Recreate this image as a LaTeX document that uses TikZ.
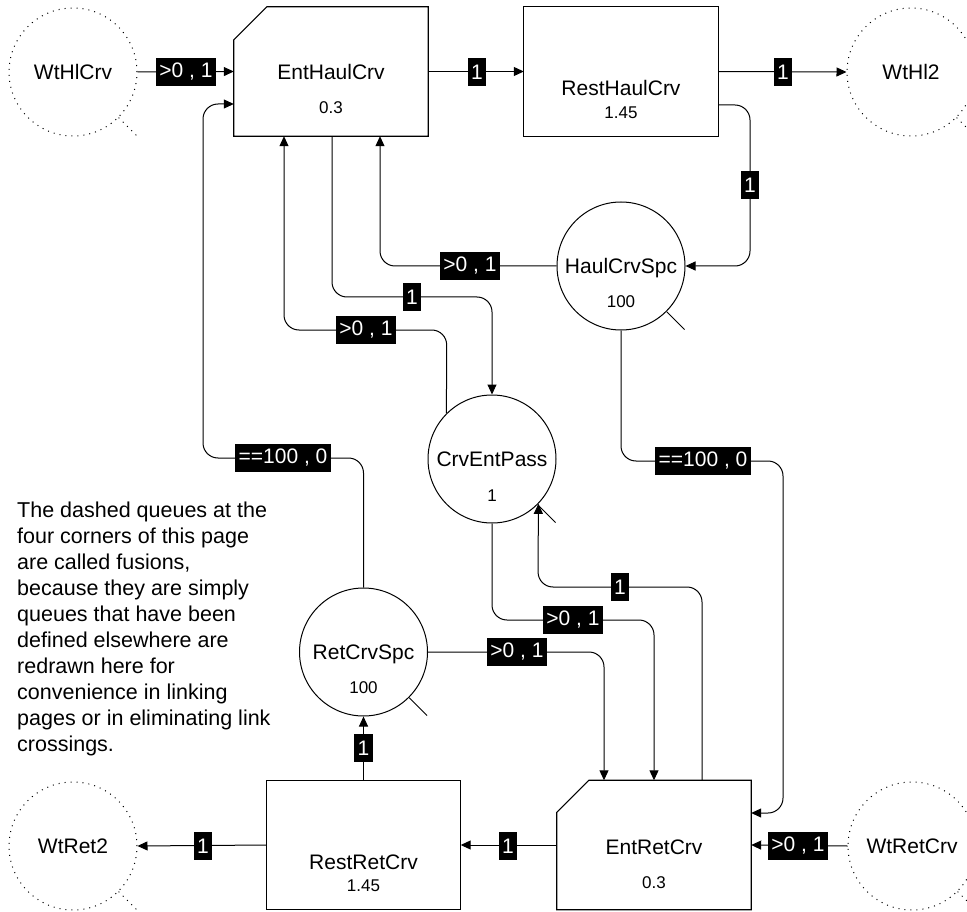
\documentclass[tikz,border=0pt]{standalone}
\usepackage{fontspec}
\setmainfont{Liberation Sans}
\usetikzlibrary{arrows.meta,calc}
\begin{document}
\begin{tikzpicture}[x=1pt,y=-1pt,
  conn/.style={line width=1pt,-{Triangle[length=10pt,width=9pt]},rounded corners=15pt},
  lbl/.style={fill=black,text=white,font=\fontsize{21}{21}\selectfont,
    inner xsep=3.5pt,inner ysep=0pt,minimum height=28pt},
  nametxt/.style={font=\fontsize{21}{25}\selectfont,inner sep=0pt,text depth=0pt},
  valtxt/.style={font=\fontsize{17}{20}\selectfont,inner sep=0pt,text depth=0pt},
  queue/.style={circle,draw,line width=1pt,minimum size=128pt,inner sep=0pt,
    font=\fontsize{21}{25}\selectfont,text depth=0pt},
  fusion/.style={queue,dash pattern=on 1pt off 5pt},
  tail/.style={line width=1pt},
  fusiontail/.style={line width=1pt,dash pattern=on 1pt off 5pt},
  box/.style={rectangle,inner sep=0pt,minimum width=194pt,minimum height=129pt},
  boxline/.style={line width=1.2pt}
]
\useasboundingbox (0,0) rectangle (967,912);
\clip (0,0) rectangle (967,912);

% transitions (boxes)
\node[box] (ehc) at (331,71.5) {};
\node[box] (rhc) at (621,71.5) {};
\node[box] (erc) at (654,845) {};
\node[box] (rrc) at (363.5,845) {};
\draw[boxline] ([yshift=-33pt]ehc.north west) -- ([xshift=33pt]ehc.north west)
  -- (ehc.north east) -- (ehc.south east) -- (ehc.south west) -- cycle;
\draw[boxline] ([yshift=-32pt]erc.north west) -- ([xshift=32pt]erc.north west)
  -- (erc.north east) -- (erc.south east) -- (erc.south west) -- cycle;
\draw[boxline] (rhc.north west) rectangle (rhc.south east);
\draw[boxline] (rrc.north west) rectangle (rrc.south east);
\node[nametxt] (ehcn) at (331,72) {EntHaulCrv};
\node[valtxt] (ehcv) at (331,108) {0.3};
\node[nametxt] (rhcn) at (621,88) {RestHaulCrv};
\node[valtxt] (rhcv) at (621,113) {1.45};
\node[nametxt] (ercn) at (654,847) {EntRetCrv};
\node[valtxt] (ercv) at (654,883) {0.3};
\node[nametxt] (rrcn) at (363.5,862) {RestRetCrv};
\node[valtxt] (rrcv) at (363.5,886) {1.45};

% queues
\node[queue] (hcs) at (621,266) {HaulCrvSpc};
\node[valtxt] (hcsv) at (621,302) {100};
\draw[tail] (hcs.-45) -- ++(18,18);
\node[queue] (cep) at (492,459) {CrvEntPass};
\node[valtxt] (cepv) at (492,496) {1};
\draw[tail] (cep.-45) -- ++(18,18);
\node[queue] (rcs) at (363.5,652) {RetCrvSpc};
\node[valtxt] (rcsv) at (363.5,688) {100};
\draw[tail] (rcs.-45) -- ++(18,18);

% fusion queues at the corners
\node[fusion] (wh) at (73,72) {WtHlCrv};
\draw[fusiontail] (wh.-45) -- ++(19,19);
\node[fusion] (wh2) at (911,72) {WtHl2};
\draw[fusiontail] (wh2.-45) -- ++(19,19);
\node[fusion] (wr2) at (73,846) {WtRet2};
\draw[fusiontail] (wr2.-45) -- ++(19,19);
\node[fusion] (wrc) at (912,846) {WtRetCrv};
\draw[fusiontail] (wrc.-45) -- ++(19,19);

% links
\draw[conn] (wh.east) -- (ehc.west);
\node[lbl] (l1) at (186,72) {>0 , 1};
\draw[conn] (ehc.east) -- (rhc.west);
\node[lbl] (l2) at (477,72) {1};
\draw[conn] (rhc.east) -- (wh2.west);
\node[lbl] (l3) at (783,72) {1};
\draw[conn] ([yshift=-33.5pt]rhc.east) -- (750,105) -- (750,266) -- (hcs.east);
\node[lbl] (l4) at (750,185) {1};
\draw[conn] (hcs.west) -- (380,266) -- ([xshift=49pt]ehc.south);
\node[lbl] (l5) at (470,266) {>0 , 1};
\draw[conn] ([xshift=1pt]ehc.south) -- (332,297) -- (492,297) -- (cep.north);
\node[lbl] (l6) at (412,297) {1};
\draw[conn] (cep.135) -- (446.75,330) -- (284,330) -- ([xshift=-47pt]ehc.south);
\node[lbl] (l7) at (366,330) {>0 , 1};
\draw[conn] (rcs.north) -- (363.5,458) -- (203,458) -- (203,104) -- ([yshift=-32.5pt]ehc.west);
\node[lbl] (l8) at (283,458) {==100 , 0};
\draw[conn] (hcs.south) -- (621,461) -- (783,461) -- (783,813) -- ([yshift=32pt]erc.east);
\node[lbl] (l9) at (703,461) {==100 , 0};
\draw[conn] (rcs.east) -- (604,652) -- ([xshift=-50pt]erc.north);
\node[lbl] (l10) at (517,652) {>0 , 1};
\draw[conn] (cep.south) -- (492,620) -- (654,620) -- (erc.north);
\node[lbl] (l11) at (573,620) {>0 , 1};
\draw[conn] ([xshift=48pt]erc.north) -- (702,587) -- (538,587) -- (cep.-44);
\node[lbl] (l12) at (620,587) {1};
\draw[conn] (erc.west) -- (rrc.east);
\node[lbl] (l13) at (508,846) {1};
\draw[conn] (rrc.north) -- (rcs.south);
\node[lbl] (l14) at (363.5,748) {1};
\draw[conn] (rrc.west) -- (wr2.east);
\node[lbl] (l15) at (203,846) {1};
\draw[conn] (wrc.west) -- (erc.east);
\node[lbl] (l16) at (798,846) {>0 , 1};

% note
\node[anchor=north west,inner sep=0pt,align=left,
  font=\fontsize{21.5}{26}\selectfont] (note) at (17,502)
  {The dashed queues at the\\four corners of this page\\are called fusions,\\because they are simply\\queues that have been\\defined elsewhere are\\redrawn here for\\convenience in linking\\pages or in eliminating link\\crossings.};
\end{tikzpicture}
\end{document}
